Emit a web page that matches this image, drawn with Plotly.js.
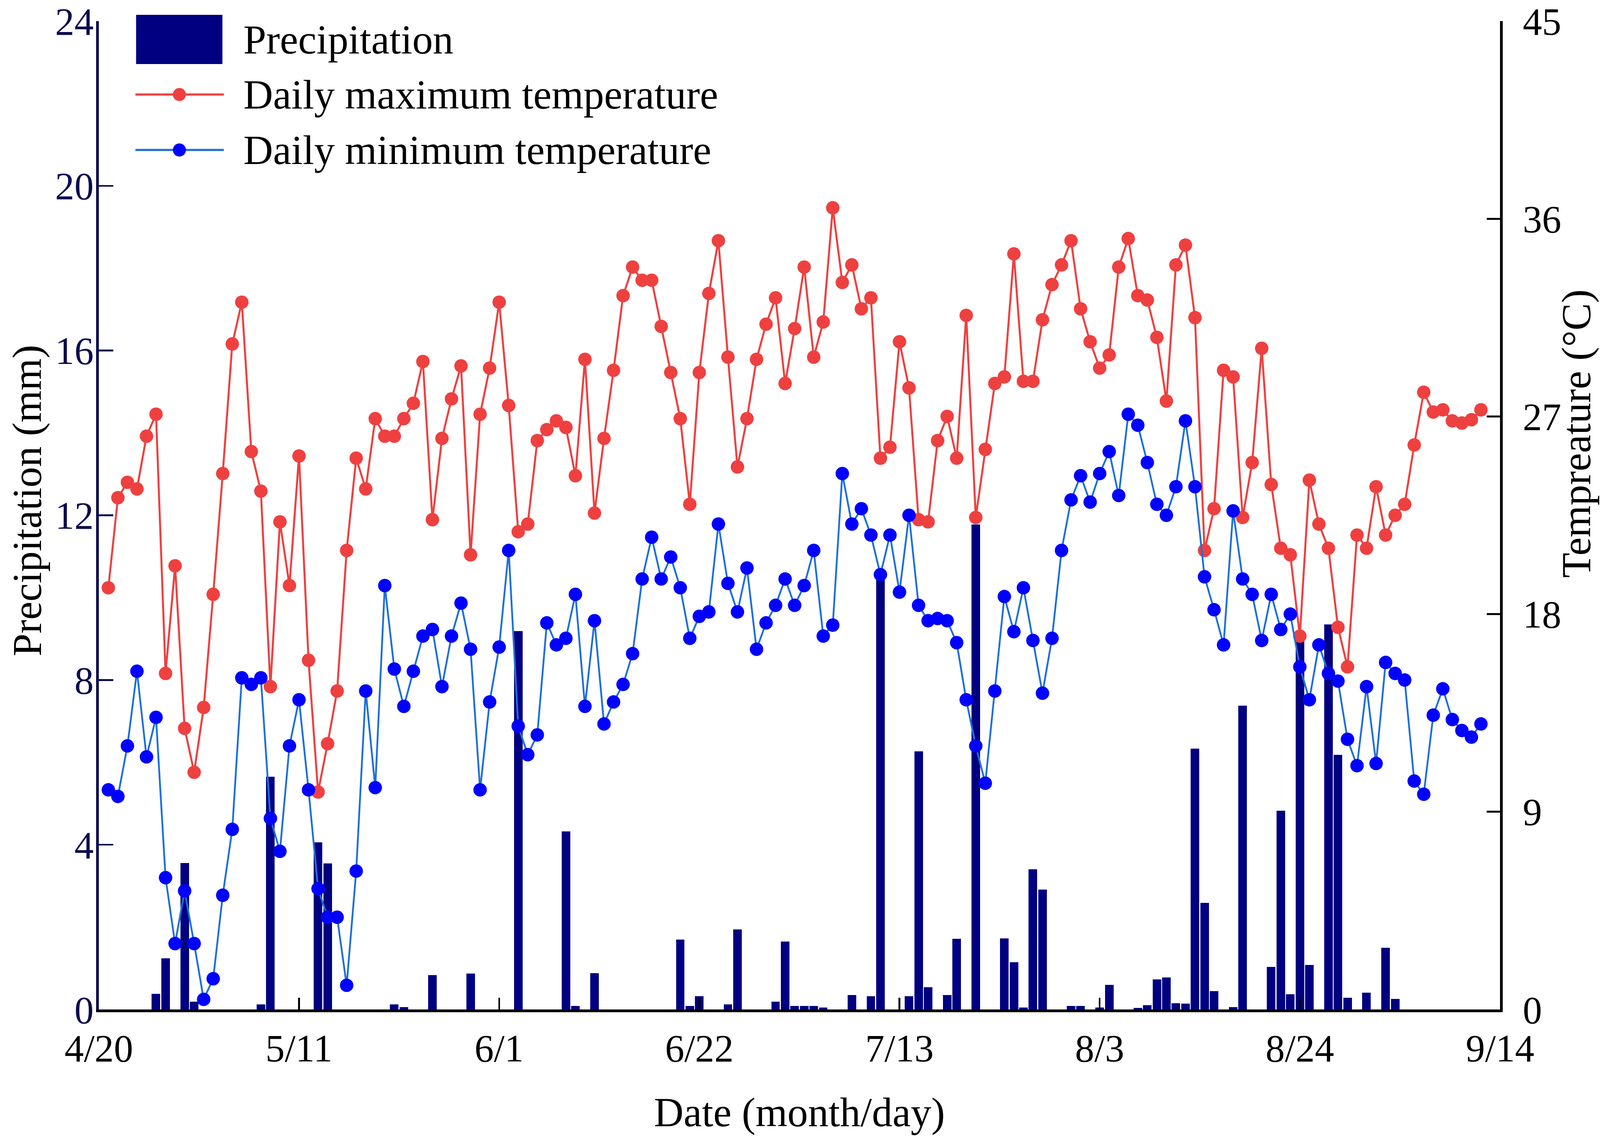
<!DOCTYPE html>
<html>
<head>
<meta charset="utf-8">
<script src="https://cdn.plot.ly/plotly-3.0.1.min.js"></script>
<style>html,body{margin:0;padding:0;background:#fff;overflow:hidden;}#chart{position:absolute;left:0;top:0;}</style>
</head>
<body>
<div id="chart"></div>
<script>
// ---- data (one value per day, starting 4/21) ----
var startDate = '2021-04-21';

var precipitation = [
  0,0,0,0,0,0.38,1.24,0,3.56,0.19,
  0,0,0,0,0,0,0.12,5.65,0,0,
  0,0,4.06,3.55,0,0,0,0,0,0,
  0.12,0.06,0,0,0.83,0,0,0,0.87,0,
  0,0,0,9.19,0,0,0,0,4.32,0.09,
  0,0.88,0,0,0,0,0,0,0,0,
  1.7,0.09,0.32,0,0,0.12,1.94,0,0,0,
  0.19,1.65,0.09,0.09,0.09,0.05,0,0,0.35,0,
  0.32,10.56,0,0,0.32,6.27,0.54,0,0.35,1.72,
  0,11.78,0,0,1.73,1.15,0.05,3.4,2.91,0,
  0,0.09,0.09,0,0.05,0.6,0,0,0.04,0.1,
  0.73,0.78,0.15,0.14,6.33,2.59,0.45,0,0.06,7.38,
  0,0,1.03,4.83,0.37,9.0,1.08,0,9.35,6.18,
  0.28,0,0.41,0,1.5,0.26,0,0,0,0,
  0,0,0,0,0
];

var tMax = [
  19.2,23.3,24.0,23.7,26.1,27.1,15.3,20.2,12.8,10.8,
  13.75,18.9,24.4,30.3,32.2,25.4,23.6,14.7,22.2,19.3,
  25.2,15.9,9.9,12.1,14.5,20.9,25.1,23.7,26.9,26.1,
  26.1,26.9,27.6,29.5,22.3,26.0,27.8,29.3,20.7,27.1,
  29.2,32.2,27.5,21.75,22.1,25.9,26.4,26.8,26.5,24.3,
  29.6,22.6,26.0,29.1,32.5,33.8,33.2,33.2,31.1,29.0,
  26.9,23.0,29.0,32.6,35.0,29.7,24.7,26.9,29.6,31.2,
  32.4,28.5,31.0,33.8,29.7,31.3,36.5,33.1,33.9,31.9,
  32.4,25.1,25.6,30.4,28.3,22.3,22.2,25.9,27.0,25.1,
  31.6,22.4,25.5,28.5,28.8,34.4,28.6,28.6,31.4,33.0,
  33.9,35.0,31.9,30.4,29.2,29.8,33.8,35.1,32.5,32.3,
  30.6,27.7,33.9,34.8,31.5,20.9,22.8,29.1,28.8,22.4,
  24.9,30.1,23.9,21.0,20.7,17.0,24.1,22.1,21.0,17.4,
  15.6,21.6,21.0,23.8,21.6,22.5,23.0,25.7,28.1,27.2,
  27.3,26.8,26.7,26.85,27.3
];

var tMin = [
  10.0,9.7,12.0,15.4,11.5,13.3,6.0,3.0,5.4,3.0,
  0.46,1.4,5.2,8.2,15.1,14.8,15.1,8.7,7.2,12.0,
  14.1,10.0,5.5,4.2,4.2,1.1,6.3,14.5,10.1,19.3,
  15.5,13.8,15.4,17.0,17.3,14.7,17.0,18.5,16.4,10.0,
  14.0,16.5,20.9,12.9,11.6,12.5,17.6,16.6,16.9,18.9,
  13.8,17.7,13.0,14.0,14.8,16.2,19.6,21.5,19.6,20.6,
  19.2,16.9,17.9,18.1,22.1,19.4,18.1,20.1,16.4,17.6,
  18.4,19.6,18.4,19.3,20.9,17.0,17.5,24.4,22.1,22.8,
  21.6,19.8,21.6,19.0,22.5,18.4,17.7,17.8,17.7,16.7,
  14.1,12.0,10.3,14.5,18.8,17.2,19.2,16.8,14.4,16.9,
  20.9,23.2,24.3,23.1,24.4,25.4,23.4,27.1,26.6,24.9,
  23.0,22.5,23.8,26.8,23.8,19.7,18.2,16.6,22.7,19.6,
  18.9,16.8,18.9,17.3,18.0,15.6,14.1,16.6,15.3,14.95,
  12.3,11.1,14.7,11.2,15.8,15.3,15.0,10.4,9.8,13.4,
  14.6,13.2,12.7,12.4,13.0
];

var tickDates  = ['2021-04-20','2021-05-11','2021-06-01','2021-06-22','2021-07-13','2021-08-03','2021-08-24','2021-09-14'];
var tickLabels = ['4/20','5/11','6/1','6/22','7/13','8/3','8/24','9/14'];

var seriesNames = ['Precipitation','Daily maximum temperature','Daily minimum temperature'];
var axisTitles  = {x: 'Date (month/day)', yLeft: 'Precipitation (mm)', yRight: 'Tempreature (\u00B0C)'};

// ---- build date list (consecutive days) ----
var dates = [];
(function(){
  var p = startDate.split('-');
  var t0 = Date.UTC(+p[0], +p[1]-1, +p[2]);
  for (var i = 0; i < precipitation.length; i++) {
    dates.push(new Date(t0 + i*86400000).toISOString().slice(0,10));
  }
})();

// ---- fit to the actual viewport ----
var W = window.innerWidth || 4724, H = window.innerHeight || 2909;
var sx = W/4724, sy = H/2909, k = Math.sqrt(sx*sy);
document.getElementById('chart').style.width = W + 'px';
document.getElementById('chart').style.height = H + 'px';

var NAVY_AXIS = '#0b0b4f';
var BAR = '#000080';
var RED = '#ef4040';
var BLUE_LINE = '#1e6fdc';
var BLUE_MK = '#0000ff';
var FONT = 'Liberation Serif, Times New Roman, serif';

var traces = [
  {
    type: 'bar', name: seriesNames[0], x: dates, y: precipitation,
    width: 0.9*86400000,
    marker: {color: BAR, line: {width: 0}},
    yaxis: 'y', showlegend: false
  },
  {
    type: 'scatter', mode: 'lines+markers', name: seriesNames[1], x: dates, y: tMax,
    line: {color: RED, width: 5.5*k},
    marker: {color: RED, size: 37*k, line: {width: 0}},
    yaxis: 'y2', showlegend: false
  },
  {
    type: 'scatter', mode: 'lines+markers', name: seriesNames[2], x: dates, y: tMin,
    line: {color: BLUE_LINE, width: 5*k},
    marker: {color: BLUE_MK, size: 37*k, line: {width: 0}},
    yaxis: 'y2', showlegend: false
  }
];

// legend geometry (paper coords)
var legX0 = 0.0266, legX1 = 0.0882, legXc = 0.0575, legTextX = 0.1027;
var legY = [0.9814, 0.9257, 0.8696];
var rad = 18*k;

var layout = {
  width: W, height: H,
  margin: {l: 292*sx, r: 295*sx, t: 54*sy, b: 324*sy, pad: 0},
  paper_bgcolor: '#ffffff', plot_bgcolor: '#ffffff',
  font: {family: FONT, color: '#000000', size: 106*k},
  bargap: 0,
  xaxis: {
    type: 'date',
    range: ['2021-04-20', '2021-09-14'],
    tickmode: 'array', tickvals: tickDates, ticktext: tickLabels,
    ticks: 'inside', ticklen: 32*k, tickwidth: 5*k, tickcolor: '#000000',
    showline: true, linecolor: '#000000', linewidth: 7*k,
    showgrid: false, zeroline: false,
    tickfont: {family: FONT, size: 106*k, color: '#000000'},
    ticklabelstandoff: 8, ticklabeloverflow: 'allow',
    title: {text: axisTitles.x, font: {family: FONT, size: 113*k, color: '#000000'}, standoff: 80*k},
    automargin: false
  },
  yaxis: {
    range: [0, 24], dtick: 4, tick0: 0,
    ticks: 'inside', ticklen: 40*k, tickwidth: 5*k, tickcolor: NAVY_AXIS,
    showline: true, linecolor: NAVY_AXIS, linewidth: 7*k,
    showgrid: false, zeroline: false,
    tickfont: {family: FONT, size: 106*k, color: NAVY_AXIS},
    ticklabelstandoff: -13, ticklabeloverflow: 'allow',
    title: {text: ''},
    automargin: false
  },
  yaxis2: {
    overlaying: 'y', side: 'right',
    range: [0, 45], dtick: 9, tick0: 0,
    ticks: 'inside', ticklen: 36*k, tickwidth: 5*k, tickcolor: '#000000',
    showline: true, linecolor: '#000000', linewidth: 7*k,
    showgrid: false, zeroline: false,
    tickfont: {family: FONT, size: 106*k, color: '#000000'},
    ticklabelstandoff: 32, ticklabeloverflow: 'allow',
    title: {text: ''},
    automargin: false
  },
  shapes: [
    {type: 'rect', xref: 'paper', yref: 'paper', x0: legX0, x1: legX1, y0: 0.9565, y1: 1.0063,
     fillcolor: BAR, line: {width: 0}, layer: 'above'},
    {type: 'line', xref: 'paper', yref: 'paper', x0: 0.0261, x1: 0.0892, y0: legY[1], y1: legY[1],
     line: {color: RED, width: 6*k}, layer: 'above'},
    {type: 'circle', xref: 'paper', yref: 'paper', xsizemode: 'pixel', ysizemode: 'pixel',
     xanchor: legXc, yanchor: legY[1], x0: -rad, x1: rad, y0: -rad, y1: rad,
     fillcolor: RED, line: {width: 0}, layer: 'above'},
    {type: 'line', xref: 'paper', yref: 'paper', x0: 0.0261, x1: 0.0892, y0: legY[2], y1: legY[2],
     line: {color: BLUE_LINE, width: 6*k}, layer: 'above'},
    {type: 'circle', xref: 'paper', yref: 'paper', xsizemode: 'pixel', ysizemode: 'pixel',
     xanchor: legXc, yanchor: legY[2], x0: -rad, x1: rad, y0: -rad, y1: rad,
     fillcolor: BLUE_MK, line: {width: 0}, layer: 'above'}
  ],
  annotations: seriesNames.map(function(n, i){
    return {xref: 'paper', yref: 'paper', x: legTextX, y: legY[i], xanchor: 'left', yanchor: 'middle',
            text: n, showarrow: false, font: {family: FONT, size: 113*k, color: '#000000'}};
  }).concat([{
    xref: 'paper', yref: 'paper', x: -0.0514, y: 0.5148, xanchor: 'center', yanchor: 'middle',
    text: axisTitles.yLeft, textangle: -90, showarrow: false, borderpad: 0,
    font: {family: FONT, size: 113*k, color: '#000000'}
  }, {
    xref: 'paper', yref: 'paper', x: 1.0546, y: 0.5828, xanchor: 'center', yanchor: 'middle',
    text: axisTitles.yRight, textangle: -90, showarrow: false, borderpad: 0,
    font: {family: FONT, size: 113*k, color: '#000000'}
  }])
};

Plotly.newPlot('chart', traces, layout, {staticPlot: true, displayModeBar: false});
</script>
</body>
</html>
